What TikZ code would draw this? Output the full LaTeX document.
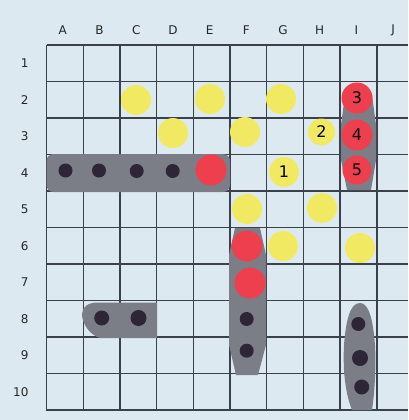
\documentclass[tikz,border=0pt]{standalone}
\usepackage{fontspec}
\setmainfont{DejaVu Sans}
\definecolor{sea}{RGB}{221,233,240}
\definecolor{gridc}{RGB}{58,64,76}
\definecolor{hullc}{RGB}{123,126,134}
\definecolor{pegc}{RGB}{47,37,56}
\definecolor{hitc}{RGB}{238,63,79}
\definecolor{missc}{RGB}{242,233,98}
\begin{document}
\begin{tikzpicture}[x=1pt, y=-1pt,
	gridline/.style={line width=1.4pt, gridc},
	hull/.style={fill=hullc, draw=none},
	lab/.style={font=\fontsize{12}{14}\selectfont, text=black!85},
	miss/.style={circle, fill=missc, minimum size=30pt, inner sep=0pt, font=\fontsize{16}{16}\selectfont},
	hit/.style={circle, fill=hitc, minimum size=31pt, inner sep=0pt, font=\fontsize{16}{16}\selectfont},
	peg/.style={circle, fill=pegc, minimum size=14pt, inner sep=0pt}]
	\useasboundingbox (0,0) rectangle (408,420);
	\fill[sea] (0,0) rectangle (408,420);
	
	% board
	\foreach \i in {0,...,10}
		\draw[gridline] ({46.5+36.7*\i},45) -- ({46.5+36.7*\i},411);
	\foreach \j in {0,...,10}
		\draw[gridline] (46.5,{45+36.5*\j}) -- (408,{45+36.5*\j});
	
	\foreach \l [count=\i] in {A,B,C,D,E,F,G,H,I,J}
		\node[lab] (col\l) at ({46.5+36.7*(\i-0.5)-2},30) {\l};
	\foreach \r in {1,...,10}
		\node[lab, anchor=east] (row\r) at (32,{45+36.5*(\r-0.5)}) {\r};
	
	% ships
	\fill[hull, rounded corners=7pt] (46.5,154) rectangle (230,192);
	\fill[hull] (345,95) -- (341,125) -- (341,160) -- (347,190) -- (371,190) -- (376,160) -- (376,125) -- (372,95) -- cycle;
	\fill[hull] (235,228) -- (229,255) -- (229,345) -- (236,375) -- (258,375) -- (266,345) -- (266,255) -- (260,228) -- cycle;
	\fill[hull] (98,302.5) -- (157,302.5) -- (157,338) -- (100,338) .. controls (90,335) and (82,324) .. (82,314) .. controls (82,307) and (88,302.5) .. (98,302.5) -- cycle;
	\fill[hull] (352,410) .. controls (344,390) and (343,365) .. (344,345) .. controls (346,320) and (350,303) .. (360,303) .. controls (369,303) and (373,320) .. (375,345) .. controls (376,365) and (375,390) .. (372,410) -- cycle;
	
	% shots that missed
	\node[miss] (c2) at (136,100) {};
	\node[miss] (e2) at (210,99) {};
	\node[miss] (g2) at (281,99) {};
	\node[miss] (d3) at (173,133) {};
	\node[miss] (f3) at (245,132) {};
	\node[miss, minimum size=27pt] (h3) at (321.5,132) {2};
	\node[miss] (g4) at (284,172) {1};
	\node[miss] (f5) at (247,209) {};
	\node[miss] (h5) at (322,208) {};
	\node[miss] (g6) at (283,246) {};
	\node[miss] (i6) at (360,248) {};
	
	% shots that hit
	\node[hit] (i2) at (357,98) {3};
	\node[hit] (i3) at (357,135) {4};
	\node[hit, minimum size=29pt] (i4) at (357,170) {5};
	\node[hit] (e4) at (211,170) {};
	\node[hit] (f6) at (247,246) {};
	\node[hit] (f7) at (250,283) {};
	
	% pegs
	\node[peg] (a4) at (65.5,170.5) {};
	\node[peg] (b4) at (99,170.5) {};
	\node[peg] (c4) at (136.7,171) {};
	\node[peg] (d4) at (172.7,171) {};
	\node[peg, minimum size=15pt] (b8) at (101.7,318) {};
	\node[peg, minimum size=16pt] (c8) at (138.5,318) {};
	\node[peg] (f8) at (246.7,319) {};
	\node[peg] (f9) at (246.7,350.7) {};
	\node[peg] (i8) at (358.3,324) {};
	\node[peg, minimum size=16pt] (i9) at (360,358) {};
	\node[peg, minimum size=15pt] (i10) at (361.7,387) {};
\end{tikzpicture}
\end{document}
